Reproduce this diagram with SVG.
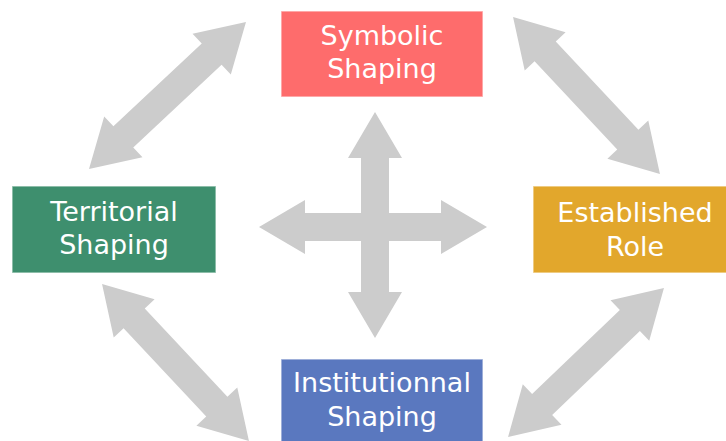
<svg xmlns="http://www.w3.org/2000/svg" width="726" height="441" viewBox="0 0 726 441">
<defs>
<style>
.arr{fill:#cccccc;}
.box rect{stroke:#ffffff;stroke-opacity:0.55;stroke-width:1.5;}
.box text{font-family:"DejaVu Sans",sans-serif;font-size:27px;fill:#ffffff;text-anchor:middle;}
</style>
<polygon id="dbl" points="-107.5,0 -60.5,-28 -60.5,-14.5 60.5,-14.5 60.5,-28 107.5,0 60.5,28 60.5,14.5 -60.5,14.5 -60.5,28"/>
</defs>
<rect width="726" height="441" fill="#ffffff"/>
<g id="connectors" class="arr">
<use href="#dbl" transform="translate(167.5,95.5) rotate(-43.1)"/>
<use href="#dbl" transform="translate(586.5,95.5) rotate(46.9)"/>
<use href="#dbl" transform="translate(175.5,362.5) rotate(46.9)"/>
<use href="#dbl" transform="translate(586,362.5) rotate(-43.7) scale(1.003,1)"/>
<polygon points="259,227 305,200 305,213 361,213 361,158 348,158 375,112 402,158 389,158 389,213 441,213 441,200 487,227 441,254 441,241 389,241 389,292 402,292 375,338 348,292 361,292 361,241 305,241 305,254"/>
</g>
<g id="symbolic" class="box">
<rect x="281" y="11" width="202" height="86" fill="#fe6c6c"/>
<text x="382" y="45">Symbolic</text>
<text x="382" y="78">Shaping</text>
</g>
<g id="territorial" class="box">
<rect x="12" y="186" width="204" height="87" fill="#3e8f6e"/>
<text x="114" y="221">Territorial</text>
<text x="114" y="254">Shaping</text>
</g>
<g id="established" class="box">
<rect x="533" y="186" width="204" height="87" fill="#e2a72c"/>
<text x="635" y="222">Established</text>
<text x="635" y="256">Role</text>
</g>
<g id="institutionnal" class="box">
<rect x="281" y="359" width="202" height="87" fill="#5a78bf"/>
<text x="382" y="392">Institutionnal</text>
<text x="382" y="426">Shaping</text>
</g>
</svg>
